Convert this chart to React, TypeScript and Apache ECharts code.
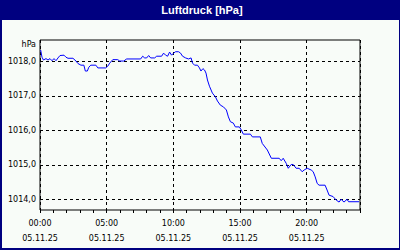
import React, { useEffect, useRef } from "react";
import * as echarts from "echarts";

const title = "Luftdruck [hPa]";
const unitLabel = "hPa";
const dateLabel = "05.11.25";
const yTicks = [1014, 1015, 1016, 1017, 1018];

const hours = [
  0.05, 0.15, 0.26, 0.45, 0.6, 0.75, 0.9, 1.05, 1.2, 1.35, 1.5, 1.8, 1.95, 2.1, 2.47, 2.7, 2.84,
  3.07, 3.29, 3.4, 3.55, 3.66, 3.81, 4.19, 4.34, 4.93, 5.08, 5.23, 5.46, 5.83, 5.98, 6.28, 6.5,
  7.55, 7.7, 7.85, 8.0, 8.15, 8.3, 8.6, 8.75, 9.12, 9.27, 9.42, 9.57, 9.72, 9.87, 10.02, 10.17,
  10.39, 10.54, 10.69, 10.92, 11.14, 11.33, 11.44, 11.59, 11.81, 11.96, 12.07, 12.22, 12.34,
  12.45, 12.56, 12.71, 12.93, 13.16, 13.31, 13.53, 13.76, 13.98, 14.13, 14.28, 14.5, 14.65,
  14.95, 15.1, 15.25, 15.78, 15.93, 16.52, 16.67, 17.05, 17.35, 17.94, 18.09, 18.24, 18.47,
  18.62, 18.84, 18.99, 19.21, 19.44, 19.66, 19.81, 20.04, 20.34, 20.49, 20.64, 20.79, 20.93,
  21.38, 21.53, 21.68, 21.98, 22.21, 22.43, 22.58, 22.8, 23.03, 23.14, 23.93,
];

const pressure = [
  1018.33, 1018.12, 1018.04, 1018.08, 1018.04, 1018.08, 1018.02, 1018.08, 1018.02, 1018.1,
  1018.17, 1018.18, 1018.12, 1018.09, 1018.09, 1018.01, 1017.94, 1017.89, 1017.89, 1017.72,
  1017.72, 1017.83, 1017.89, 1017.89, 1017.81, 1017.81, 1017.86, 1017.95, 1018.05, 1018.05,
  1018.01, 1018.01, 1018.07, 1018.07, 1018.15, 1018.1, 1018.1, 1018.17, 1018.1, 1018.1,
  1018.15, 1018.15, 1018.24, 1018.18, 1018.15, 1018.27, 1018.18, 1018.24, 1018.28, 1018.28,
  1018.24, 1018.15, 1018.1, 1018.07, 1018.1, 1017.95, 1017.89, 1017.89, 1017.81, 1017.72,
  1017.79, 1017.75, 1017.66, 1017.46, 1017.28, 1017.08, 1016.97, 1016.85, 1016.73, 1016.68,
  1016.59, 1016.39, 1016.25, 1016.21, 1016.1, 1016.1, 1016.01, 1015.89, 1015.89, 1015.81,
  1015.81, 1015.62, 1015.43, 1015.19, 1015.19, 1015.12, 1015.19, 1015.04, 1014.9, 1015.01,
  1015.01, 1014.9, 1014.9, 1014.8, 1014.85, 1014.9, 1014.85, 1014.8, 1014.65, 1014.46,
  1014.41, 1014.41, 1014.27, 1014.12, 1014.08, 1013.98, 1013.92, 1014.0, 1013.92, 1014.0,
  1013.93, 1013.93,
];

const NAVY = "#000080";
const BG = "#f8fcf8";
const FONT = "DejaVu Sans";

export default function App() {
  const ref = useRef<HTMLDivElement>(null);
  useEffect(() => {
    if (!ref.current) return;
    const chart = echarts.init(ref.current, undefined, { renderer: "svg" });
    const data = hours.map((h, i) => [h, pressure[i]]);
    const pad = (n: number) => (n < 10 ? "0" + n : "" + n);
    chart.setOption({
      animation: false,
      backgroundColor: BG,
      grid: {
        left: 40,
        right: 40,
        top: 40,
        bottom: 40,
        show: true,
        borderColor: "#000",
        borderWidth: 1,
        backgroundColor: BG,
      },
      xAxis: [
        {
          type: "value",
          min: 0,
          max: 24,
          interval: 5,
          axisLine: { show: false },
          axisTick: { show: false },
          axisLabel: {
            showMaxLabel: false,
            margin: 6,
            color: "#000",
            fontFamily: FONT,
            fontSize: 8,
            lineHeight: 15,
            formatter: (v: number) => `${pad(Math.round(v))}:00\n${dateLabel}`,
          },
          splitLine: {
            show: true,
            lineStyle: { color: "#000", type: [3, 3], width: 1 },
          },
        },
        {
          type: "value",
          min: 0,
          max: 24,
          interval: 1,
          position: "bottom",
          axisLine: { show: false },
          axisTick: { show: true, length: 3, lineStyle: { color: "#000" } },
          axisLabel: { show: false },
          splitLine: { show: false },
        },
      ],
      yAxis: {
        type: "value",
        min: 1013.69,
        max: 1018.62,
        axisLine: { show: false },
        axisTick: { show: false, customValues: yTicks },
        axisLabel: {
          customValues: yTicks,
          margin: 4,
          color: "#000",
          fontFamily: FONT,
          fontSize: 8,
          formatter: (v: number) => v.toFixed(1).replace(".", ","),
        },
        splitLine: {
          show: true,
          lineStyle: { color: "#000", type: [3, 3], width: 1 },
        },
      },
      series: [
        {
          type: "line",
          xAxisIndex: 0,
          data,
          showSymbol: false,
          symbol: "none",
          lineStyle: { color: "#0000ff", width: 1 },
          z: 5,
        },
      ],
      graphic: [
        { type: "rect", shape: { x: 0, y: 0, width: 400, height: 20 }, style: { fill: NAVY }, silent: true },
        { type: "rect", shape: { x: 0, y: 0, width: 2, height: 250 }, style: { fill: NAVY }, silent: true },
        { type: "rect", shape: { x: 399, y: 0, width: 1, height: 250 }, style: { fill: NAVY }, silent: true },
        { type: "rect", shape: { x: 0, y: 248, width: 400, height: 2 }, style: { fill: NAVY }, silent: true },
        {
          type: "text",
          x: 202,
          y: 10,
          style: {
            text: title,
            fill: "#fff",
            font: "bold 11px 'Liberation Sans'",
            align: "center",
            verticalAlign: "middle",
          },
          silent: true,
        },
        {
          type: "text",
          x: 36,
          y: 44,
          style: {
            text: unitLabel,
            fill: "#000",
            font: `8px '${FONT}'`,
            align: "right",
            verticalAlign: "middle",
          },
          silent: true,
        },
      ],
    });
    return () => chart.dispose();
  }, []);
  return (
    <div
      ref={ref}
      style={{ position: "absolute", left: 0, top: 0, width: 400, height: 250 }}
    />
  );
}
